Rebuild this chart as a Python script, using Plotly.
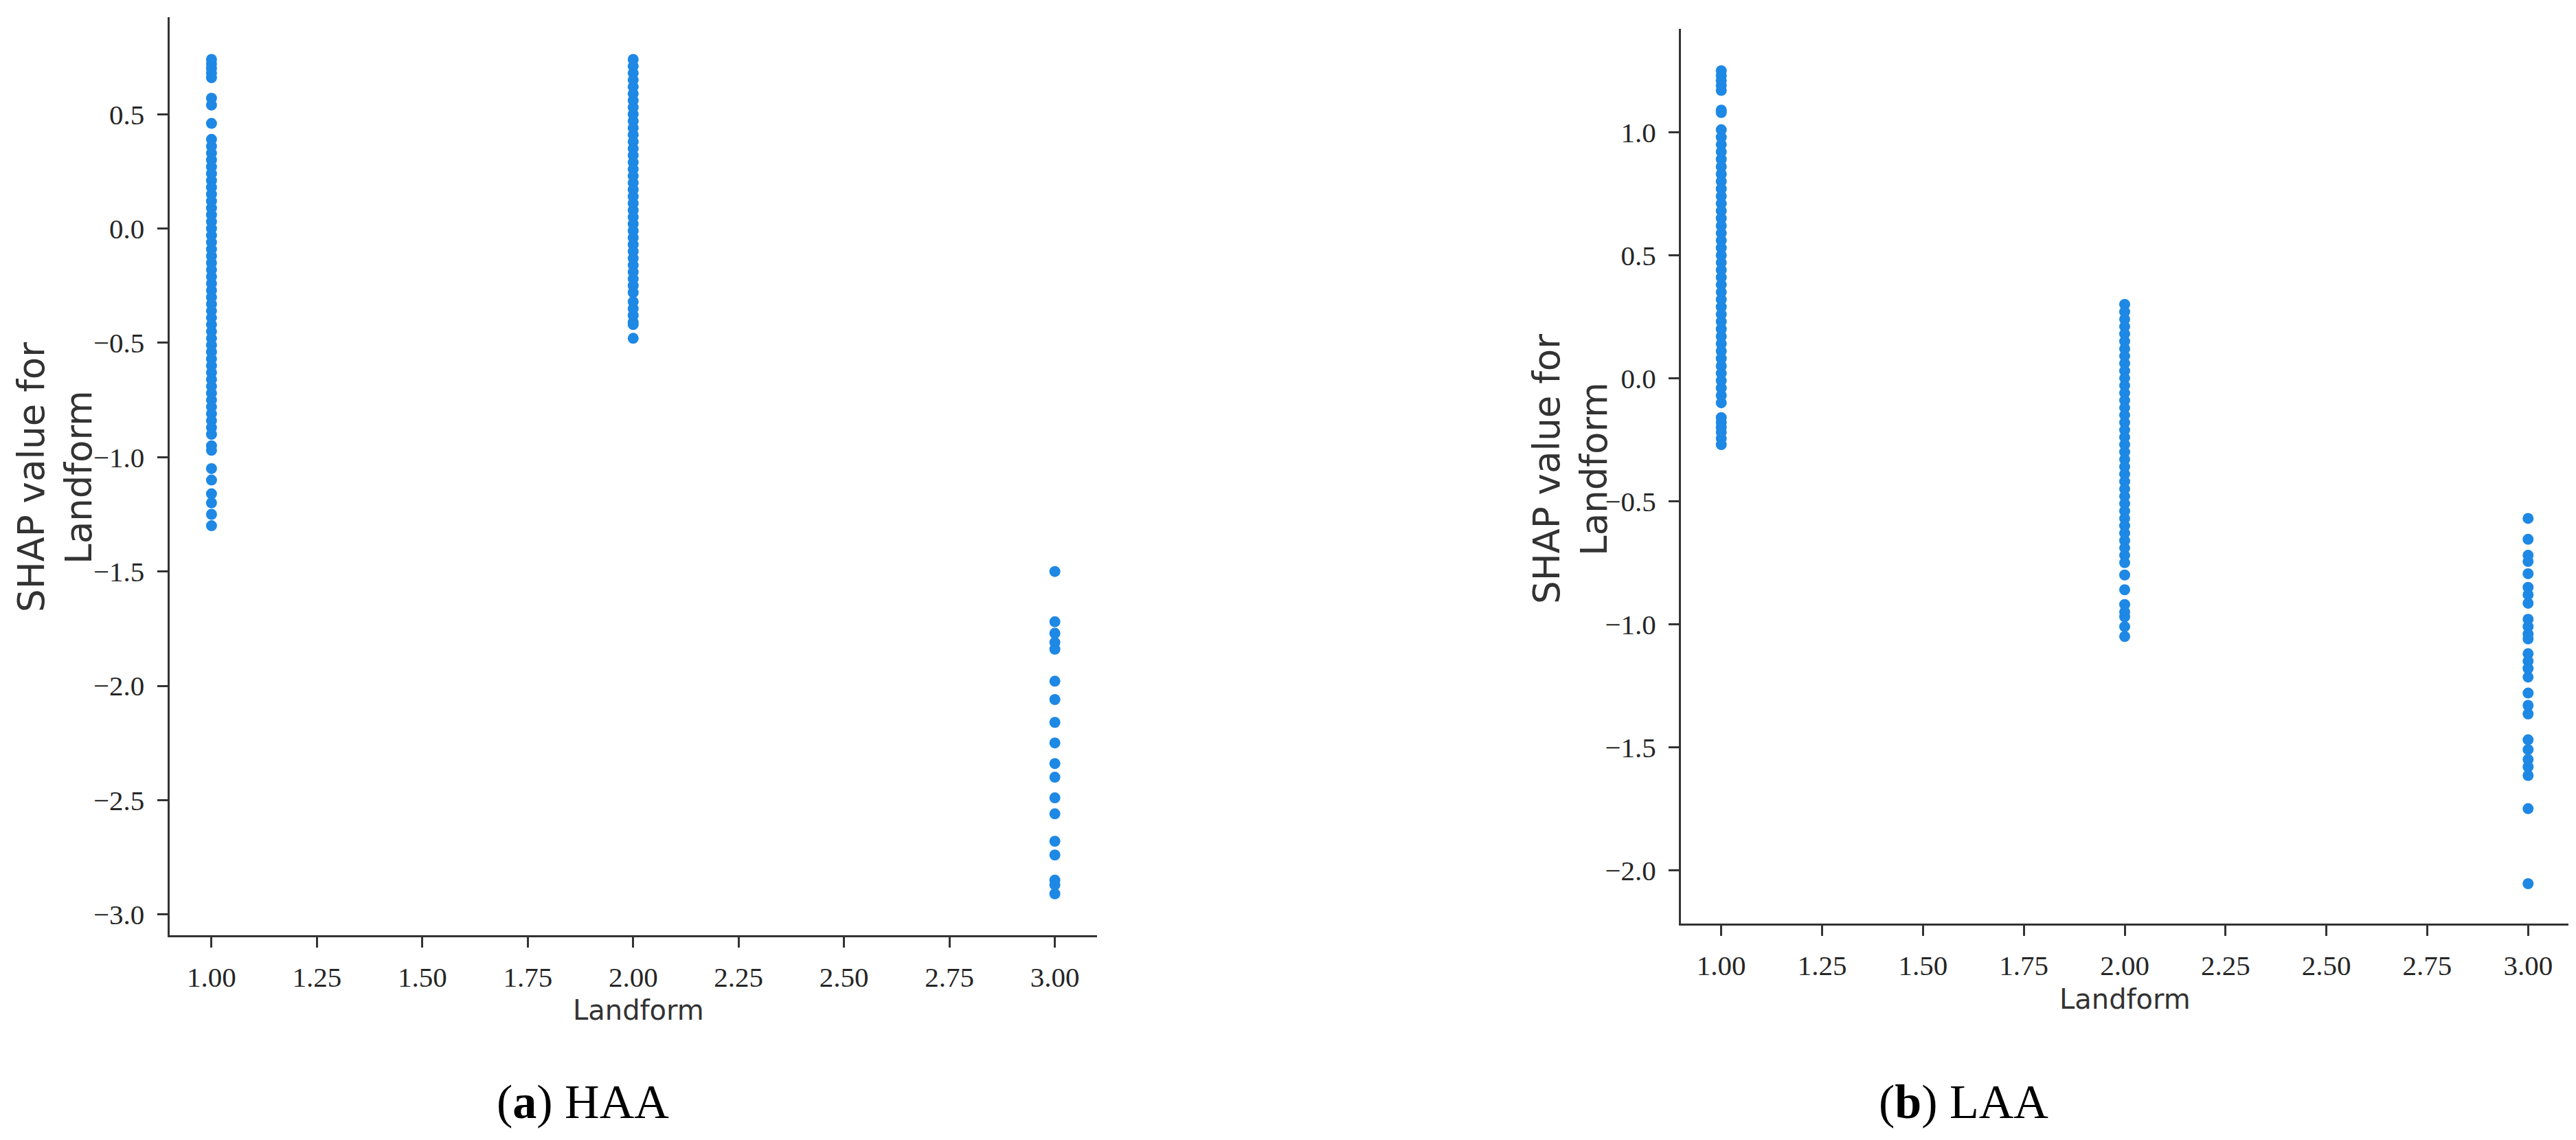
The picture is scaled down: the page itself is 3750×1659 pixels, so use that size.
import plotly.graph_objects as go

# ---------------- data ----------------
landform_levels = [1, 2, 3]

# (a) HAA : SHAP values at Landform = 1, 2, 3
haa_l1 = [0.74, 0.72, 0.70, 0.68, 0.66, 0.57, 0.54, 0.46,
          0.39, 0.36, 0.33, 0.30, 0.27, 0.24, 0.21, 0.18, 0.15, 0.12, 0.09, 0.06,
          0.03, 0.00, -0.03, -0.06, -0.09, -0.12, -0.15, -0.18, -0.21, -0.24,
          -0.27, -0.30, -0.33, -0.36, -0.39, -0.42, -0.45, -0.48, -0.51, -0.54,
          -0.57, -0.60, -0.63, -0.66, -0.69, -0.72, -0.75, -0.78, -0.81, -0.84,
          -0.87, -0.90, -0.95, -0.97, -1.05, -1.10, -1.16, -1.20, -1.25, -1.30]
haa_l2 = [0.74, 0.71, 0.68, 0.65, 0.62, 0.59, 0.56, 0.53, 0.50, 0.47, 0.44,
          0.41, 0.38, 0.35, 0.32, 0.29, 0.26, 0.23, 0.20, 0.17, 0.14, 0.11,
          0.08, 0.05, 0.02, -0.01, -0.04, -0.07, -0.10, -0.13, -0.16, -0.19,
          -0.22, -0.25, -0.28, -0.32, -0.35, -0.38, -0.41, -0.42, -0.48]
haa_l3 = [-1.50, -1.72, -1.77, -1.81, -1.84, -1.98, -2.06, -2.16, -2.25,
          -2.34, -2.40, -2.49, -2.56, -2.68, -2.74, -2.85, -2.87, -2.91]

# (b) LAA : SHAP values at Landform = 1, 2, 3
laa_l1 = [1.25, 1.23, 1.21, 1.19, 1.17, 1.09, 1.08,
          1.01, 0.98, 0.95, 0.92, 0.89, 0.86, 0.83, 0.80, 0.77, 0.74, 0.71,
          0.68, 0.65, 0.62, 0.59, 0.56, 0.53, 0.50, 0.47, 0.44, 0.41, 0.38,
          0.35, 0.32, 0.29, 0.26, 0.23, 0.20, 0.17, 0.14, 0.11, 0.08, 0.05,
          0.02, -0.01, -0.04, -0.07, -0.10, -0.16, -0.18, -0.20, -0.22, -0.245,
          -0.27]
laa_l2 = [0.30, 0.27, 0.24, 0.21, 0.18, 0.15, 0.12, 0.09, 0.06, 0.03, 0.00,
          -0.03, -0.06, -0.09, -0.12, -0.15, -0.18, -0.21, -0.24, -0.27, -0.30,
          -0.33, -0.36, -0.39, -0.42, -0.45, -0.48, -0.51, -0.54, -0.57, -0.60,
          -0.63, -0.66, -0.69, -0.72, -0.75, -0.80, -0.86, -0.92, -0.95, -0.97,
          -1.01, -1.05]
laa_l3 = [-0.57, -0.655, -0.72, -0.745, -0.795, -0.85, -0.88, -0.915, -0.98,
          -1.01, -1.04, -1.06, -1.12, -1.15, -1.18, -1.215, -1.28, -1.33,
          -1.365, -1.47, -1.51, -1.55, -1.58, -1.615, -1.75, -2.055]

x_tickvals = [1.00, 1.25, 1.50, 1.75, 2.00, 2.25, 2.50, 2.75, 3.00]
x_ticktext = ["1.00", "1.25", "1.50", "1.75", "2.00", "2.25", "2.50", "2.75", "3.00"]
haa_yticks = [-3.0, -2.5, -2.0, -1.5, -1.0, -0.5, 0.0, 0.5]
haa_ytext = ["\u22123.0", "\u22122.5", "\u22122.0", "\u22121.5", "\u22121.0", "\u22120.5", "0.0", "0.5"]
laa_yticks = [-2.0, -1.5, -1.0, -0.5, 0.0, 0.5, 1.0]
laa_ytext = ["\u22122.0", "\u22121.5", "\u22121.0", "\u22120.5", "0.0", "0.5", "1.0"]

x_title = "Landform"
y_title = "SHAP value for<br>Landform"
captions = ["(<b>a</b>) HAA", "(<b>b</b>) LAA"]

# ---------------- figure ----------------
W, H = 3750, 1659
BLUE = "#1E88E5"
AX = "#333333"

def column(level, values):
    return [level] * len(values)

fig = go.Figure()
for vals, lvl in zip([haa_l1, haa_l2, haa_l3], landform_levels):
    fig.add_trace(go.Scatter(x=column(lvl, vals), y=vals, mode="markers",
                             marker=dict(color=BLUE, size=16, line=dict(width=0)),
                             xaxis="x", yaxis="y", showlegend=False))
for vals, lvl in zip([laa_l1, laa_l2, laa_l3], landform_levels):
    fig.add_trace(go.Scatter(x=column(lvl, vals), y=vals, mode="markers",
                             marker=dict(color=BLUE, size=16, line=dict(width=0)),
                             xaxis="x2", yaxis="y2", showlegend=False))

tickfont = dict(family="Liberation Serif", size=41, color="#262626")
common = dict(showline=True, linecolor=AX, linewidth=3, ticks="outside",
              ticklen=15, tickwidth=2.5, tickcolor=AX, showgrid=False,
              zeroline=False, tickfont=tickfont, mirror=False)

fig.update_layout(
    width=W, height=H, autosize=False,
    margin=dict(l=0, r=0, t=0, b=0),
    paper_bgcolor="white", plot_bgcolor="white",
    xaxis=dict(domain=[238.5 / W, 1589 / W], range=[0.9, 3.1], anchor="y",
               tickvals=x_tickvals, ticktext=x_ticktext, ticklabelstandoff=8, **common),
    yaxis=dict(domain=[(H - 1353) / H, (H - 17) / H], range=[-3.091, 0.9245], anchor="x",
               tickvals=haa_yticks, ticktext=haa_ytext, ticklabelstandoff=10, **common),
    xaxis2=dict(domain=[2439 / W, 3731 / W], range=[0.9, 3.1], anchor="y2",
                tickvals=x_tickvals, ticktext=x_ticktext, ticklabelstandoff=8, **common),
    yaxis2=dict(domain=[(H - 1336) / H, (H - 33.5) / H], range=[-2.217, 1.4215], anchor="x2",
                tickvals=laa_yticks, ticktext=laa_ytext, ticklabelstandoff=10, **common),
)

ann = []
# y-axis titles
for cx, cy in [(72, 687), (2278, 675)]:
    ann.append(dict(text=y_title, xref="paper", yref="paper", x=cx / W, y=1 - cy / H,
                    xanchor="center", yanchor="middle", textangle=-90, showarrow=False,
                    font=dict(family="DejaVu Sans", size=53, color="#333333")))
# x-axis titles
for cx, cy in [(921, 1462), (3085, 1446)]:
    ann.append(dict(text=x_title, xref="paper", yref="paper", x=cx / W, y=1 - cy / H,
                    xanchor="center", yanchor="middle", showarrow=False,
                    font=dict(family="DejaVu Sans", size=40, color="#333333")))
# sub-figure captions
for cap, cx in zip(captions, [840, 2850]):
    ann.append(dict(text=cap, xref="paper", yref="paper", x=cx / W, y=1 - 1595 / H,
                    xanchor="center", yanchor="middle", showarrow=False,
                    font=dict(family="Liberation Serif", size=70, color="black")))
fig.update_layout(annotations=ann)

fig.write_html("out.html")
